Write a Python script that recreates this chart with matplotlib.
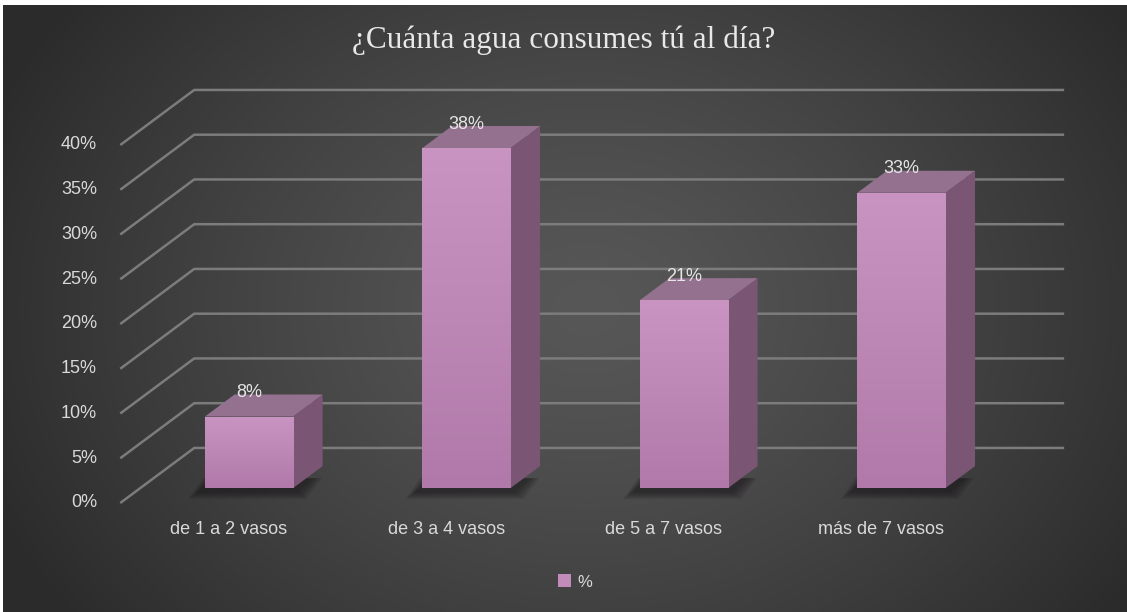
import numpy as np
import matplotlib
matplotlib.use("Agg")
import matplotlib.pyplot as plt
from matplotlib.patches import Polygon, Rectangle, Patch

# data
categorias = ["de 1 a 2 vasos", "de 3 a 4 vasos", "de 5 a 7 vasos", "más de 7 vasos"]
valores = [8, 38, 21, 33]
etiquetas = ["8%", "38%", "21%", "33%"]
ticks = [0, 5, 10, 15, 20, 25, 30, 35, 40]
titulo = "¿Cuánta agua consumes tú al día?"

W, H = 1127, 612
fig = plt.figure(figsize=(W / 100, H / 100), dpi=100, facecolor="white")

# dark radial background (leave the thin white strip top/left)
bg = fig.add_axes([3 / W, 0, 1 - 3 / W, 1 - 5 / H])
bg.set_axis_off()
xx, yy = np.meshgrid(np.linspace(0, 1, 400), np.linspace(0, 1, 220))
r = np.sqrt(((xx - 0.52) / 0.58) ** 2 + ((yy - 0.5) / 0.85) ** 2)
r = np.clip(r, 0, 1)
val = (0x57 - (0x57 - 0x2b) * r ** 1.3) / 255
bg.imshow(np.dstack([val, val, val]), aspect="auto", extent=[0, 1, 0, 1])
bg.set_xlim(0, 1)
bg.set_ylim(0, 1)

ax = fig.add_axes([0, 0, 1, 1])
ax.set_axis_off()
ax.patch.set_alpha(0)

DX, DY = 0.340, 6.15     # depth of the floor (oblique)
f0, f1 = 0.27, 0.67      # bar front / back depth
w = 0.405                # bar width
grid_c = "#7c7c7c"
txt_c = "#d9d9d9"

# gridlines: diagonal side wall + horizontal back wall
for t in ticks:
    ax.plot([-0.5, -0.5 + DX, 3.5 + DX], [t, t + DY, t + DY],
            color=grid_c, lw=1.8, solid_capstyle="butt", zorder=1)
    ax.text(-0.607, t, f"{t}%", ha="right", va="center", color=txt_c,
            fontsize=13, family="Liberation Sans")

for i, v in enumerate(valores):
    x0 = i + f0 * DX - w / 2
    y0 = f0 * DY
    ddx, ddy = (f1 - f0) * DX, (f1 - f0) * DY
    # soft shadow under the bar (mostly along the front bottom edge)
    for k in range(5):
        e = 0.01 * (5 - k)
        ey = 0.18 * (5 - k)
        sh = Polygon([(x0 - 0.025 - e, y0 - 0.3 - ey), (x0 + w + 0.01 + e, y0 - 0.3 - ey),
                      (x0 + w + ddx * 0.6 + e, y0 + ddy * 0.45),
                      (x0 + ddx * 0.3 - e, y0 + ddy * 0.45)],
                     closed=True, facecolor="#141014", edgecolor="none",
                     alpha=0.13, zorder=2)
        ax.add_patch(sh)
    # side face
    side = Polygon([(x0 + w, y0), (x0 + w + ddx, y0 + ddy),
                    (x0 + w + ddx, y0 + ddy + v), (x0 + w, y0 + v)],
                   closed=True, facecolor="#7a5674", edgecolor="none", zorder=3)
    ax.add_patch(side)
    # top face
    top = Polygon([(x0, y0 + v), (x0 + w, y0 + v), (x0 + w + ddx, y0 + ddy + v),
                   (x0 + ddx, y0 + ddy + v)],
                  closed=True, facecolor="#957190", edgecolor="none", zorder=3)
    ax.add_patch(top)
    # front face with vertical gradient
    front = Rectangle((x0, y0), w, v, facecolor="none", edgecolor="none", zorder=4)
    ax.add_patch(front)
    g = np.linspace(0, 1, 100)[:, None]
    c_top = np.array([0xc9, 0x94, 0xc2]) / 255
    c_bot = np.array([0xb0, 0x79, 0xa9]) / 255
    grad = c_top[None, None, :] * (1 - g[..., None]) + c_bot[None, None, :] * g[..., None]
    grad = np.repeat(grad, 2, axis=1)
    im = ax.imshow(grad, aspect="auto", extent=[x0, x0 + w, y0, y0 + v],
                   origin="upper", zorder=4)
    im.set_clip_path(front)
    # value label
    ax.text(i + f0 * DX, v + f1 * DY + 0.2, etiquetas[i], ha="center", va="center",
            color="#e6e6e6", fontsize=13, family="Liberation Sans", zorder=5)
    # category label
    ax.text(i, -3.0, categorias[i], ha="center", va="center", color=txt_c,
            fontsize=13, family="Liberation Sans")

ax.set_xlim(-1.053, 4.129)
ax.set_ylim(-12.18, 56.2)

fig.text(0.5, 1 - 40 / H, titulo, ha="center", va="center", color="#e8e8e8",
         fontsize=22.5, family="Liberation Serif")

leg = fig.legend(handles=[Patch(facecolor="#c18cba", edgecolor="none", label="%")],
                 loc="center", bbox_to_anchor=(575 / W, 1 - 582 / H), frameon=False,
                 handlelength=0.8, handleheight=0.8, handletextpad=0.4,
                 labelcolor=txt_c, prop={"family": "Liberation Sans", "size": 12})

fig.savefig("out.png", dpi=100, facecolor="white")
